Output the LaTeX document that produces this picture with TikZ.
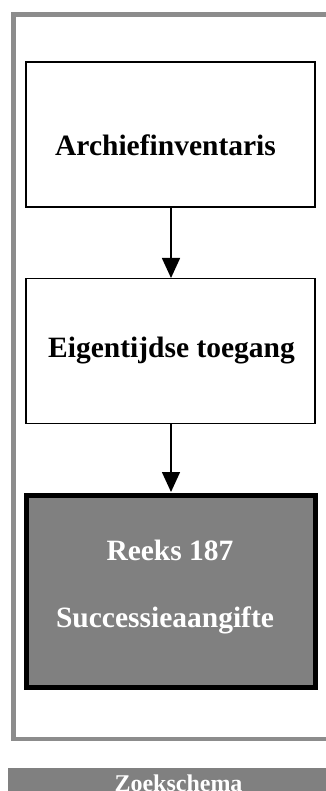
\documentclass[tikz,border=0pt]{standalone}
\usepackage{fontspec}
\setmainfont{Liberation Serif}
\usetikzlibrary{arrows.meta}
\definecolor{framegray}{RGB}{140,140,140}
\definecolor{fillgray}{RGB}{128,128,128}
\begin{document}
\begin{tikzpicture}[x=1pt,y=-1pt,
  box/.style={draw=black,line width=1.5pt,fill=white,minimum width=289pt,minimum height=145pt,inner sep=0pt},
  darkbox/.style={draw=black,line width=5pt,fill=fillgray,minimum width=289pt,minimum height=192pt,inner sep=0pt},
  lbl/.style={font=\fontsize{29.5}{34}\selectfont\bfseries,inner sep=0pt,anchor=base},
  wlbl/.style={lbl,text=white},
  conn/.style={line width=1.5pt,-{Triangle[width=18pt,length=20pt]}}]
\useasboundingbox (0,0) rectangle (326,791);
\begin{scope}
\clip (0,0) rectangle (326,791);
% frame
\draw[framegray,line width=4.5pt] (330,14.5) -- (13.5,14.5) -- (13.5,739) -- (330,739);
% boxes
\node[box] (a) at (170.5,134.5) {};
\node[box] (b) at (170.5,351) {};
\node[darkbox] (c) at (171,591.5) {};
\node[lbl] (ta) at (165.5,156) {Archiefinventaris};
\node[lbl] (tb) at (171.5,357) {Eigentijdse toegang};
\node[wlbl] (tc1) at (170,560) {Reeks 187};
\node[wlbl] (tc2) at (165,627) {Successieaangifte};
\draw[conn] (171,207) -- (171,278);
\draw[conn] (171,423) -- (171,492);
% bottom bar
\fill[fillgray] (8,768) rectangle (330,800);
\node[font=\fontsize{24}{28}\selectfont\bfseries,text=white,inner sep=0pt,anchor=base] (z) at (178.5,791) {Zoekschema};
\end{scope}
\end{tikzpicture}
\end{document}
